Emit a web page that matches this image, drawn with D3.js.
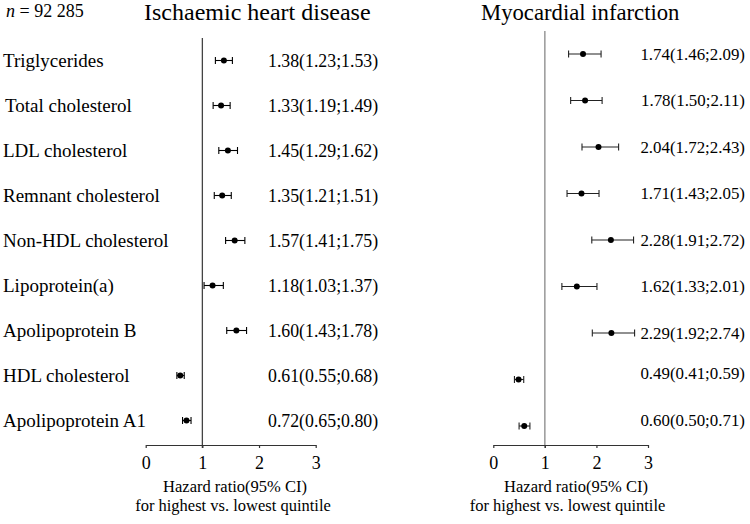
<!DOCTYPE html>
<html><head><meta charset="utf-8">
<script src="https://cdn.jsdelivr.net/npm/d3@7"></script>
<style>body{margin:0;background:#fff}svg{display:block}text{font-family:"Liberation Serif","Times New Roman",serif;fill:#000}</style>
</head><body>
<svg id="c" width="750" height="524"></svg>
<script>
const categories = ["Triglycerides","Total cholesterol","LDL cholesterol","Remnant cholesterol","Non-HDL cholesterol","Lipoprotein(a)","Apolipoprotein B","HDL cholesterol","Apolipoprotein A1"];
const ihdHR = [1.38,1.33,1.45,1.35,1.57,1.18,1.60,0.61,0.72];
const ihdLo = [1.23,1.19,1.29,1.21,1.41,1.03,1.43,0.55,0.65];
const ihdHi = [1.53,1.49,1.62,1.51,1.75,1.37,1.78,0.68,0.80];
const miHR = [1.74,1.78,2.04,1.71,2.28,1.62,2.29,0.49,0.60];
const miLo = [1.46,1.50,1.72,1.43,1.91,1.33,1.92,0.41,0.50];
const miHi = [2.09,2.11,2.43,2.05,2.72,2.01,2.74,0.59,0.71];
const tickValues = [0,1,2,3];
const titles = ["Ischaemic heart disease","Myocardial infarction"];
const axisTitle = ["Hazard ratio(95% CI)","for highest vs. lowest quintile"];
const nLabel = "92 285";

const svg = d3.select("#c");
const fmt = d3.format(".2f");

// n label
const nt = svg.append("text").attr("x",6).attr("y",17).attr("font-size",18);
nt.append("tspan").attr("font-style","italic").text("n");
nt.append("tspan").text(" = " + nLabel);

// category labels
const yL = d3.scalePoint().domain(categories).range([60.5,420.5]);
svg.append("g").selectAll("text").data(categories).join("text")
  .attr("x",(d,i)=> i===1?5:3).attr("y",d=>yL(d)).attr("dy","0.35em")
  .attr("font-size",19).text(d=>d);

function panel(cfg){
  const x = d3.scaleLinear().domain([0,3]).range(cfg.xr);
  const y = d3.scalePoint().domain(categories).range(cfg.yr);
  const g = svg.append("g");
  // title
  g.append("text").attr("x",cfg.titleX).attr("y",20).attr("font-size",cfg.titleSize).text(cfg.title);
  // reference line
  g.append("line").attr("x1",x(1)).attr("x2",x(1)).attr("y1",cfg.refTop).attr("y2",cfg.axisY+3)
    .attr("stroke",cfg.refColor).attr("stroke-width",1.3);
  // axis
  const ax = g.append("g").attr("transform",`translate(0,${cfg.axisY})`)
    .call(d3.axisBottom(x).tickValues(tickValues).tickFormat(d3.format("d")).tickSize(3).tickSizeOuter(0).tickPadding(8));
  ax.attr("font-family",null);
  ax.select(".domain").attr("stroke","#333").attr("stroke-width",1.2);
  ax.selectAll(".tick line").attr("stroke","#333").attr("stroke-width",1.2);
  ax.selectAll(".tick text").attr("font-size",18).attr("fill","#000");
  // axis title
  const cx = cfg.atX;
  g.append("text").attr("x",cx[0]).attr("y",cfg.axisY+47).attr("text-anchor","middle").attr("font-size",16.5).text(axisTitle[0]);
  g.append("text").attr("x",cx[1]).attr("y",cfg.axisY+66).attr("text-anchor","middle").attr("font-size",16.5).text(axisTitle[1]);
  // error bars
  const rows = categories.map((c,i)=>({c,hr:cfg.hr[i],lo:cfg.lo[i],hi:cfg.hi[i],i}));
  const eb = g.append("g").selectAll("g").data(rows).join("g").attr("transform",d=>`translate(0,${y(d.c)})`);
  eb.append("line").attr("x1",d=>x(d.lo)).attr("x2",d=>x(d.hi)).attr("stroke",cfg.barColor).attr("stroke-width",1.1);
  eb.append("line").attr("x1",d=>x(d.lo)).attr("x2",d=>x(d.lo)).attr("y1",-3.5).attr("y2",3.5).attr("stroke",cfg.barColor).attr("stroke-width",1.1);
  eb.append("line").attr("x1",d=>x(d.hi)).attr("x2",d=>x(d.hi)).attr("y1",-3.5).attr("y2",3.5).attr("stroke",cfg.barColor).attr("stroke-width",1.1);
  eb.append("circle").attr("cx",d=>x(d.hr)).attr("r",3).attr("fill","#000");
  // value labels
  g.append("g").selectAll("text").data(rows).join("text")
    .attr("x",cfg.labX).attr("text-anchor",cfg.labAnchor)
    .attr("y",d=>y(d.c) + (cfg.shiftLast && d.i>=7 ? -6 : 0)).attr("dy","0.35em")
    .attr("font-size",cfg.labSize)
    .text(d=>`${fmt(d.hr)}(${fmt(d.lo)};${fmt(d.hi)})`);
}

panel({title:titles[0],titleX:144,titleSize:24,xr:[145.7,315.7],yr:[60.5,420.5],refTop:38,refColor:"#444",axisY:445,
  atX:[235,233],hr:ihdHR,lo:ihdLo,hi:ihdHi,barColor:"#000",labX:268,labAnchor:"start",labSize:17.8,shiftLast:false});
panel({title:titles[1],titleX:481,titleSize:22.7,xr:[493.3,648],yr:[54,426],refTop:31,refColor:"#888",axisY:445,
  atX:[576,567.5],hr:miHR,lo:miLo,hi:miHi,barColor:"#222",labX:745,labAnchor:"end",labSize:16.9,shiftLast:true});
</script>
</body></html>
